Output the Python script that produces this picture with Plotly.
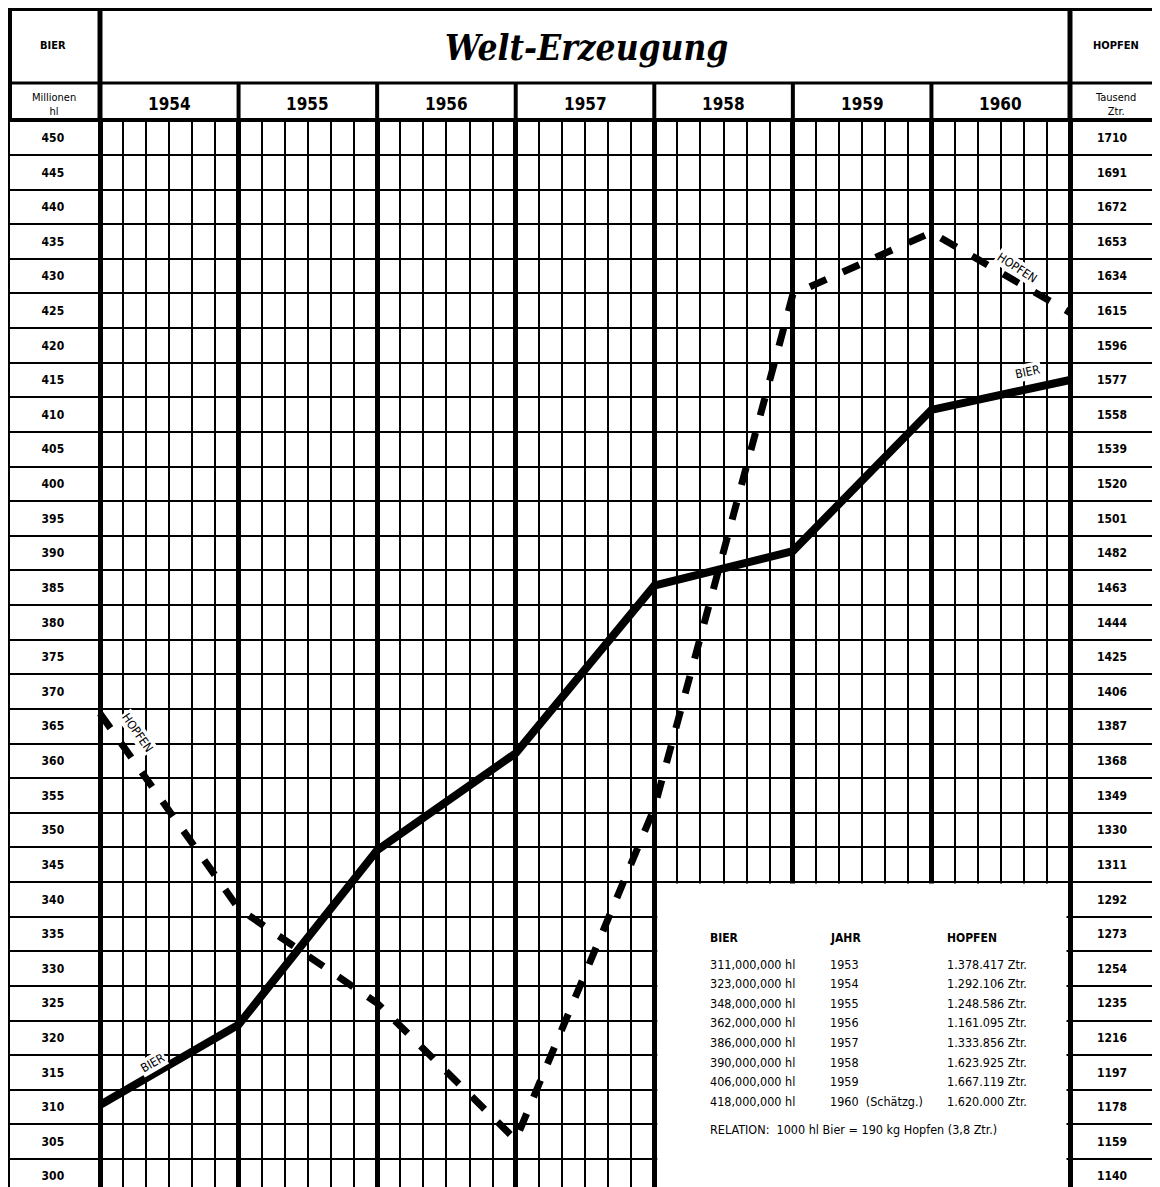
import plotly.graph_objects as go

# ---------------- data ----------------
years = [1953, 1954, 1955, 1956, 1957, 1958, 1959, 1960]
bier = [310.3, 321.9, 347.1, 361.1, 385.3, 390.3, 410.7, 415.0]          # Millionen hl
hopfen = [1394, 1287, 1235, 1160, 1342, 1624, 1658, 1614]                 # Tausend Ztr.
year_labels = ["1954", "1955", "1956", "1957", "1958", "1959", "1960"]
bier_ticks = list(range(300, 451, 5))
hopfen_ticks = list(range(1140, 1711, 19))

table_bier = ["311,000,000 hl", "323,000,000 hl", "348,000,000 hl", "362,000,000 hl",
              "386,000,000 hl", "390,000,000 hl", "406,000,000 hl", "418,000,000 hl"]
table_jahr = ["1953", "1954", "1955", "1956", "1957", "1958", "1959", "1960  (Schätzg.)"]
table_hopfen = ["1.378.417 Ztr.", "1.292.106 Ztr.", "1.248.586 Ztr.", "1.161.095 Ztr.",
                "1.333.856 Ztr.", "1.623.925 Ztr.", "1.667.119 Ztr.", "1.620.000 Ztr."]
relation_text = "RELATION:  1000 hl Bier = 190 kg Hopfen (3,8 Ztr.)"

# ---------------- geometry helpers (page pixels, body margin 8px) ----------------
OFF = 8
W, H = 1160 - OFF, 1187 - OFF
def px(x):
    return (x - OFF) / W
def py(y):
    return 1 - (y - OFF) / H

PX_PER_YEAR = 970 / 7.0
X0_PX = 100          # page pixel of 1953
LEFT_PX = 10
x_lo = 1953 - (X0_PX - LEFT_PX) / PX_PER_YEAR
x_hi = 1953 + (1160 - X0_PX) / PX_PER_YEAR

PX_PER_UNIT = 6.924
TOP_PX = 121.5
y_hi = 447.5 + (155 - TOP_PX) / PX_PER_UNIT
y_lo = y_hi - (1187 - TOP_PX) / PX_PER_UNIT
ratio = 3.8
def to_h(v):
    return 1140 + (v - 300) * ratio

FONT = "DejaVu Sans Condensed"

fig = go.Figure()
fig.add_trace(go.Scatter(x=years, y=bier, mode="lines", name="BIER",
                         line=dict(color="black", width=8), showlegend=False))
fig.add_trace(go.Scatter(x=years, y=hopfen, mode="lines", name="HOPFEN", yaxis="y2",
                         line=dict(color="black", width=7, dash="18px,18px"),
                         showlegend=False))

minor_x = [years[0] + k / 6 for k in range(1, 6 * (years[-1] - years[0])) if k % 6 != 0]

tickfont = dict(family=FONT, size=12, color="black", weight="bold")
fig.update_layout(
    width=W, height=H, autosize=False,
    margin=dict(l=0, r=0, t=0, b=0),
    paper_bgcolor="white", plot_bgcolor="white",
    xaxis=dict(domain=[px(LEFT_PX), 1], range=[x_lo, x_hi], side="top",
               tickmode="array", tickvals=years, showticklabels=False, ticks="",
               showgrid=True, gridcolor="black", gridwidth=5, zeroline=False,
               showline=True, linecolor="black", linewidth=4,
               minor=dict(tickmode="array", tickvals=minor_x, showgrid=True,
                          gridcolor="black", gridwidth=2, ticks="")),
    yaxis=dict(domain=[0, py(TOP_PX)], range=[y_lo, y_hi],
               tickmode="array", tickvals=bier_ticks,
               ticktext=[str(v) for v in bier_ticks],
               ticklabelposition="inside", ticklabelstandoff=31, ticks="",
               tickfont=tickfont,
               showgrid=False, zeroline=False,
               showline=True, linecolor="black", linewidth=4,
               minor=dict(tick0=302.5, dtick=5, showgrid=True, gridcolor="black",
                          gridwidth=2, ticks="")),
    yaxis2=dict(overlaying="y", side="right", anchor="x",
                range=[to_h(y_lo), to_h(y_hi)],
                tickmode="array", tickvals=hopfen_ticks,
                ticktext=[str(v) for v in hopfen_ticks],
                ticklabelposition="inside", ticklabelstandoff=30, ticks="",
                tickfont=tickfont,
                showgrid=False, zeroline=False, showline=False),
)

shapes = []
# header frame
shapes.append(dict(type="line", xref="paper", yref="paper", x0=px(LEFT_PX - 2), x1=1,
                   y0=py(9.5), y1=py(9.5), line=dict(color="black", width=3)))
shapes.append(dict(type="line", xref="paper", yref="paper", x0=px(LEFT_PX - 2), x1=1,
                   y0=py(83), y1=py(83), line=dict(color="black", width=3)))
shapes.append(dict(type="line", xref="paper", yref="paper", x0=px(LEFT_PX), x1=px(LEFT_PX),
                   y0=py(8), y1=py(TOP_PX), line=dict(color="black", width=4)))
for yr in (years[0], years[-1]):
    shapes.append(dict(type="line", xref="x", yref="paper", x0=yr, x1=yr, y0=py(8), y1=py(TOP_PX),
                       line=dict(color="black", width=5)))
for yr in years[1:-1]:
    shapes.append(dict(type="line", xref="x", yref="paper", x0=yr, x1=yr, y0=py(83), y1=py(TOP_PX),
                       line=dict(color="black", width=4)))
# white table box over the lower right grid
shapes.append(dict(type="rect", xref="x", yref="y", layer="between",
                   x0=1957 + 3 / PX_PER_YEAR, x1=1960 - 3.5 / PX_PER_YEAR,
                   y0=y_lo - 1, y1=342.5 - 0.2,
                   fillcolor="white", line=dict(width=0)))
fig.update_layout(shapes=shapes)

def A(text, x, y, xref="paper", yref="paper", size=11, bold=False, xanchor="center",
      family=FONT, **kw):
    d = dict(text=text, x=x, y=y, xref=xref, yref=yref, showarrow=False,
             xanchor=xanchor, yanchor="middle",
             font=dict(family=family, size=size, color="black",
                       weight="bold" if bold else "normal"))
    d.update(kw)
    return d

ann = []
ann.append(A("<i>Welt-Erzeugung</i>", px(586), py(47), size=35, bold=True,
             family="DejaVu Serif Condensed"))
ann.append(A("BIER", px(53), py(45), size=11, bold=True))
ann.append(A("HOPFEN", px(1116), py(45), size=11, bold=True))
ann.append(A("Millionen<br>hl", px(54), py(104), size=11))
ann.append(A("Tausend<br>Ztr.", px(1115), py(104), size=11))
for yr, lab in zip(years[1:], year_labels):
    ann.append(A(lab, yr - 0.5, py(104), xref="x", size=17, bold=True))

# line labels
ann.append(A("BIER", 1953.38, 316.4, xref="x", yref="y", size=12, textangle=-30, bgcolor="white"))
ann.append(A("BIER", 1959.69, 416.2, xref="x", yref="y", size=12, textangle=-12, bgcolor="white"))
ann.append(A("HOPFEN", 1953.27, 364.0, xref="x", yref="y", size=12, textangle=55, bgcolor="white"))
ann.append(A("HOPFEN", 1959.62, 431.2, xref="x", yref="y", size=12, textangle=33, bgcolor="white"))

# table
col_x = [px(708), px(828), px(945)]
for cx, head in zip(col_x, ("BIER", "JAHR", "HOPFEN")):
    ann.append(A(head, cx, py(938), size=12, bold=True, xanchor="left"))
for i in range(len(table_bier)):
    yy = py(964 + i * 19.6)
    for cx, txt in zip(col_x, (table_bier[i], table_jahr[i], table_hopfen[i])):
        ann.append(A(txt, cx, yy, size=12.5, xanchor="left"))
ann.append(A(relation_text, col_x[0], py(1129), size=12.5, xanchor="left"))
fig.update_layout(annotations=ann)

fig.write_html("out.html")
